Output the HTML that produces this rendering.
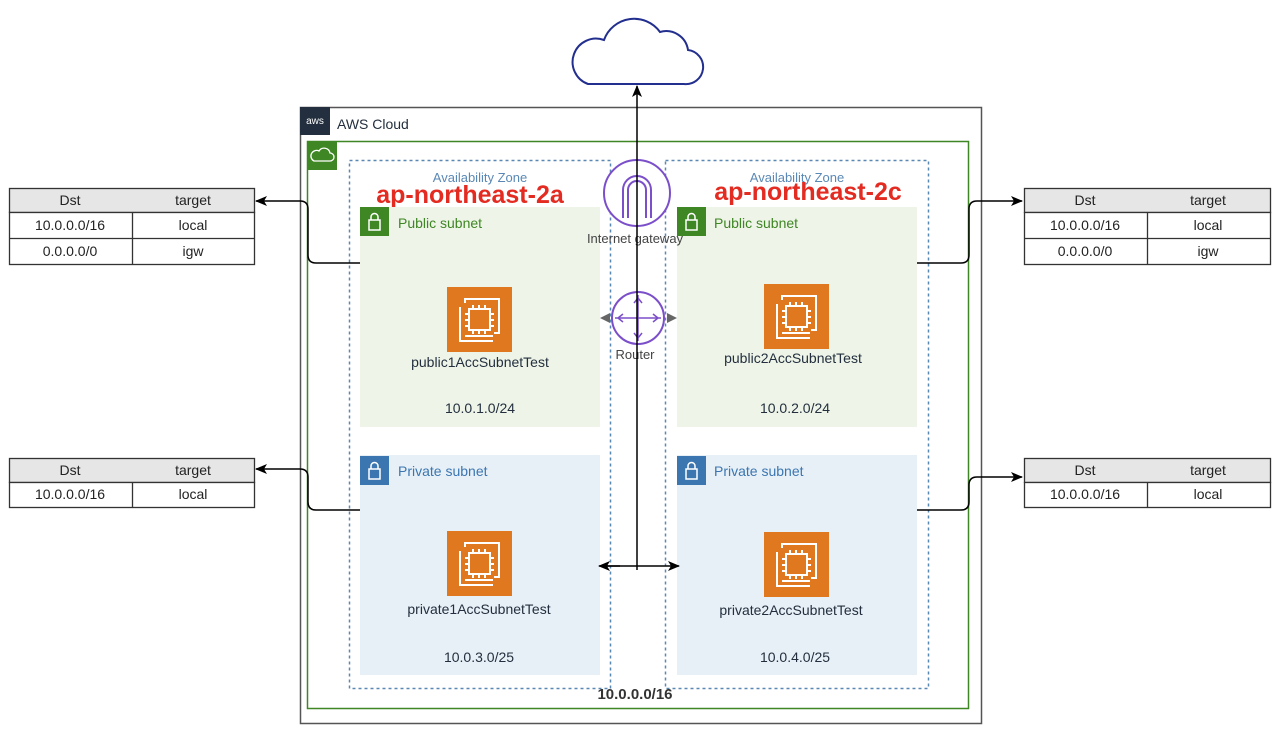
<!DOCTYPE html>
<html><head><meta charset="utf-8"><style>
body{margin:0;background:#fff;font-family:"Liberation Sans",sans-serif;}
svg text{font-family:"Liberation Sans",sans-serif;}
</style></head><body>
<svg width="1286" height="735" viewBox="0 0 1286 735" xmlns="http://www.w3.org/2000/svg">
<defs>
<marker id="ar" markerWidth="12" markerHeight="12" refX="11" refY="6" orient="auto" markerUnits="userSpaceOnUse"><path d="M0,1 L12,6 L0,11 L3,6z" fill="#000"/></marker>
<g id="ec2">
<rect width="65" height="65" fill="#e0781f"/>
<rect x="22" y="22" width="21" height="21" fill="none" stroke="#fff" stroke-width="2"/>
<path d="M18,16 V12 H52 V46 H47 M18,49 H46" fill="none" stroke="#fff" stroke-width="2"/>
<path d="M13,20 V54 H46 M26,18v4M32,18v4M38,18v4M26,43v4M32,43v4M38,43v4M18,27h4M18,33h4M18,39h4M43,27h4M43,33h4M43,39h4" fill="none" stroke="#fff" stroke-width="2"/>
</g>
<g id="lock"><rect width="29" height="29"/><rect x="9" y="13" width="11" height="10" fill="none" stroke="#fff" stroke-width="1.5"/><path d="M11,13v-3a3.5,3.5 0 0 1 7,0v3" fill="none" stroke="#fff" stroke-width="1.5"/></g>
</defs>
<!-- cloud -->
<path d="M588,84 H684 A17,17 0 0 0 688,50 A22,22 0 0 0 660,32 A32,32 0 0 0 604,40 A22,22 0 0 0 588,84 Z" fill="#fff" stroke="#232f8e" stroke-width="2"/>
<!-- AWS cloud -->
<rect x="300.5" y="107.5" width="681" height="616" fill="#fff" stroke="#555" stroke-width="1.5"/>
<rect x="300" y="107" width="30" height="28" fill="#232f3e"/>
<text x="315" y="124" font-size="10" fill="#fff" text-anchor="middle">aws</text>
<text x="337" y="129" font-size="14" fill="#232f3e">AWS Cloud</text>
<!-- VPC -->
<rect x="307.5" y="141.5" width="661" height="567" fill="#fff" stroke="#3f8624" stroke-width="1.5"/>
<rect x="307" y="141" width="30" height="29" fill="#3f8624"/>
<path d="M314,161 h16 a4,4 0 0 0 0,-8 a6,6 0 0 0 -11,-2 a5,5 0 0 0 -5,10z" fill="none" stroke="#fff" stroke-width="1.3"/>
<!-- AZ -->
<rect x="349.5" y="160.5" width="261" height="528" fill="none" stroke="#5a88b5" stroke-width="1.5" stroke-dasharray="3,3"/>
<rect x="665.5" y="160.5" width="263" height="528" fill="none" stroke="#5a88b5" stroke-width="1.5" stroke-dasharray="3,3"/>
<text x="480" y="182" font-size="13" fill="#5a88b5" text-anchor="middle">Availability Zone</text>
<text x="797" y="182" font-size="13" fill="#5a88b5" text-anchor="middle">Availability Zone</text>
<text x="470" y="203" font-size="25" font-weight="bold" fill="#e32b21" text-anchor="middle">ap-northeast-2a</text>
<text x="808" y="200" font-size="25" font-weight="bold" fill="#e32b21" text-anchor="middle">ap-northeast-2c</text>
<!-- subnets -->
<rect x="360" y="207" width="240" height="220" fill="#eef4e8"/>
<rect x="677" y="207" width="240" height="220" fill="#eef4e8"/>
<rect x="360" y="455" width="240" height="220" fill="#e8f0f7"/>
<rect x="677" y="455" width="240" height="220" fill="#e8f0f7"/>
<use href="#lock" x="360" y="207" fill="#3f8624"/>
<use href="#lock" x="677" y="207" fill="#3f8624"/>
<use href="#lock" x="360" y="456" fill="#3b76b0"/>
<use href="#lock" x="677" y="456" fill="#3b76b0"/>
<text x="398" y="228" font-size="14" fill="#3f8624">Public subnet</text>
<text x="714" y="228" font-size="14" fill="#3f8624">Public subnet</text>
<text x="398" y="476" font-size="14" fill="#3b76b0">Private subnet</text>
<text x="714" y="476" font-size="14" fill="#3b76b0">Private subnet</text>
<use href="#ec2" x="447" y="287"/>
<use href="#ec2" x="764" y="284"/>
<use href="#ec2" x="447" y="531"/>
<use href="#ec2" x="764" y="532"/>
<g font-size="14" fill="#232f3e" text-anchor="middle">
<text x="480" y="367">public1AccSubnetTest</text>
<text x="793" y="363">public2AccSubnetTest</text>
<text x="479" y="614">private1AccSubnetTest</text>
<text x="791" y="615">private2AccSubnetTest</text>
<text x="480" y="413">10.0.1.0/24</text>
<text x="795" y="413">10.0.2.0/24</text>
<text x="479" y="662">10.0.3.0/25</text>
<text x="795" y="662">10.0.4.0/25</text>
</g>
<text x="635" y="699" font-size="15" font-weight="bold" fill="#333" text-anchor="middle">10.0.0.0/16</text>
<!-- IGW -->
<circle cx="637" cy="193" r="33" fill="#fff" stroke="#7b4fc9" stroke-width="2"/>
<path d="M623,218 V190 a14,14 0 0 1 28,0 V218 M628,218 V190 a9,9 0 0 1 18,0 V218" fill="none" stroke="#7b4fc9" stroke-width="2"/>
<text x="635" y="243" font-size="13" fill="#444" text-anchor="middle">Internet gateway</text>
<!-- Router -->
<circle cx="638" cy="318" r="26" fill="#fff" stroke="#7b4fc9" stroke-width="2"/>
<path d="M615,318h46M638,295v46M618,318l5,-4M618,318l5,4M658,318l-5,-4M658,318l-5,4M638,298l-4,5M638,298l4,5M638,338l-4,-5M638,338l4,-5" fill="none" stroke="#7b4fc9" stroke-width="1.5"/>
<path d="M600,318l10,-5v10z M677,318l-10,-5v10z" fill="#666"/>
<text x="635" y="359" font-size="13" fill="#444" text-anchor="middle">Router</text>
<!-- lines -->
<line x1="637" y1="570" x2="637" y2="86" stroke="#000" stroke-width="1.5" marker-end="url(#ar)"/>
<line x1="602" y1="566" x2="679" y2="566" stroke="#000" stroke-width="1.5" marker-end="url(#ar)"/>
<line x1="620" y1="566" x2="599" y2="566" stroke="#000" stroke-width="1.5" marker-end="url(#ar)"/>
<g fill="none" stroke="#000" stroke-width="1.5">
<path d="M360,263 H316 Q308,263 308,255 V209 Q308,201 300,201 H256" marker-end="url(#ar)"/>
<path d="M917,263 H961 Q969,263 969,255 V209 Q969,201 977,201 H1022" marker-end="url(#ar)"/>
<path d="M360,510 H316 Q308,510 308,502 V477 Q308,469 300,469 H256" marker-end="url(#ar)"/>
<path d="M917,510 H961 Q969,510 969,502 V485 Q969,477 977,477 H1022" marker-end="url(#ar)"/>
</g>
<!-- tables -->
<g stroke="#333" stroke-width="1.3" font-size="14" fill="#222" text-anchor="middle">
<g>
<rect x="9.5" y="188.5" width="245" height="24" fill="#e6e6e6"/>
<rect x="9.5" y="212.5" width="245" height="52" fill="#fff"/>
<line x1="9" y1="238.5" x2="254" y2="238.5"/><line x1="132.5" y1="212" x2="132.5" y2="264"/>
</g>
<g>
<rect x="1024.5" y="188.5" width="246" height="24" fill="#e6e6e6"/>
<rect x="1024.5" y="212.5" width="246" height="52" fill="#fff"/>
<line x1="1024" y1="238.5" x2="1270" y2="238.5"/><line x1="1147.5" y1="212" x2="1147.5" y2="264"/>
</g>
<g>
<rect x="9.5" y="458.5" width="245" height="24" fill="#e6e6e6"/>
<rect x="9.5" y="482.5" width="245" height="25" fill="#fff"/>
<line x1="132.5" y1="482" x2="132.5" y2="507"/>
</g>
<g>
<rect x="1024.5" y="458.5" width="246" height="24" fill="#e6e6e6"/>
<rect x="1024.5" y="482.5" width="246" height="25" fill="#fff"/>
<line x1="1147.5" y1="482" x2="1147.5" y2="507"/>
</g>
</g>
<g font-size="14" fill="#222" text-anchor="middle">
<text x="70" y="205">Dst</text><text x="193" y="205">target</text>
<text x="70" y="230">10.0.0.0/16</text><text x="193" y="230">local</text>
<text x="70" y="256">0.0.0.0/0</text><text x="193" y="256">igw</text>
<text x="1085" y="205">Dst</text><text x="1208" y="205">target</text>
<text x="1085" y="230">10.0.0.0/16</text><text x="1208" y="230">local</text>
<text x="1085" y="256">0.0.0.0/0</text><text x="1208" y="256">igw</text>
<text x="70" y="475">Dst</text><text x="193" y="475">target</text>
<text x="70" y="499">10.0.0.0/16</text><text x="193" y="499">local</text>
<text x="1085" y="475">Dst</text><text x="1208" y="475">target</text>
<text x="1085" y="499">10.0.0.0/16</text><text x="1208" y="499">local</text>
</g>
</svg>
</body></html>
